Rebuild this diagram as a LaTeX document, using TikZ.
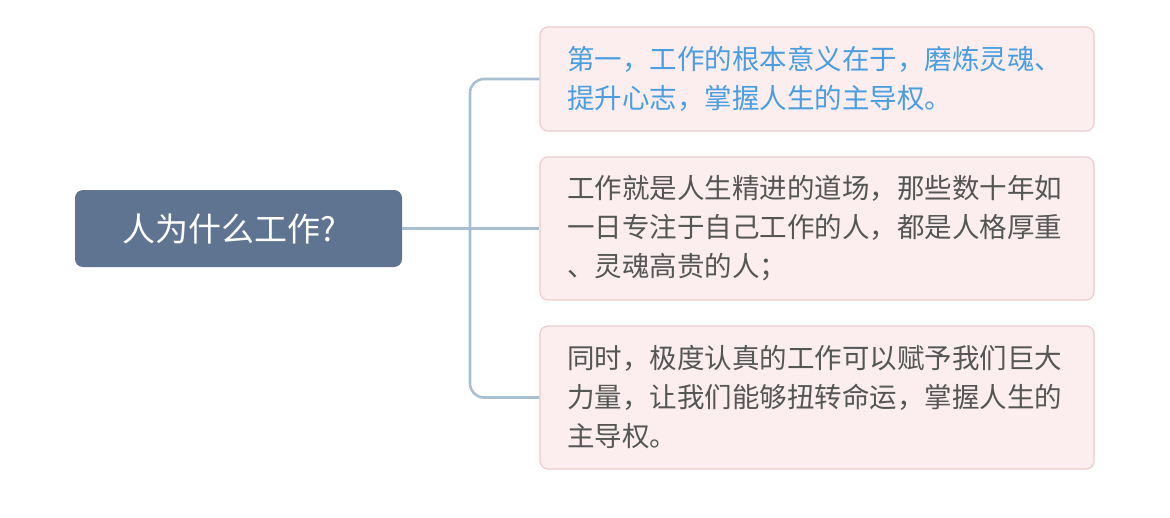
\documentclass[tikz,border=0pt]{standalone}
\usepackage{fontspec}
\setmainfont{Noto Sans CJK SC}
\definecolor{rootfill}{HTML}{5E7491}
\definecolor{boxfill}{HTML}{FCEEEF}
\definecolor{boxline}{HTML}{EECBCD}
\definecolor{linkc}{HTML}{A8BFD2}
\definecolor{bluetxt}{HTML}{4A9EE0}
\definecolor{graytxt}{HTML}{555555}
\begin{document}
\begin{tikzpicture}[x=1pt,y=-1pt,
  rootbox/.style={fill=rootfill, draw=none, rounded corners=8pt, minimum width=327pt, minimum height=77pt, text=white, font=\fontsize{33}{38}\selectfont, inner sep=0pt},
  leaf/.style={fill=boxfill, draw=boxline, line width=1.2pt, rounded corners=8pt, minimum width=554pt, inner xsep=27pt, inner ysep=0pt, text width=500pt, align=left, font=\fontsize{27.5}{39}\selectfont, text=graytxt},
  link/.style={draw=linkc, line width=2.6pt, rounded corners=14pt}]
\useasboundingbox (0,0) rectangle (1170,517);
\fill[white] (0,0) rectangle (1170,517);
\node[rootbox] (root) at (238.5,228.5) {人为什么工作?\hspace*{18pt}};
\node[leaf, minimum height=104pt, text=bluetxt] (b1) at (817,79) {第一，工作的根本意义在于，磨炼灵魂、\\提升心志，掌握人生的主导权。};
\node[leaf, minimum height=143pt] (b2) at (817,228.5) {工作就是人生精进的道场，那些数十年如\\一日专注于自己工作的人，都是人格厚重\\、灵魂高贵的人；};
\node[leaf, minimum height=143pt] (b3) at (817,397.5) {同时，极度认真的工作可以赋予我们巨大\\力量，让我们能够扭转命运，掌握人生的\\主导权。};
\coordinate (top) at (470,79);
\coordinate (bot) at (470,397.5);
\draw[link] (root.east) -- (b2.west);
\draw[link] (b1.west) -- (top) -- (bot) -- (b3.west);
\end{tikzpicture}
\end{document}
